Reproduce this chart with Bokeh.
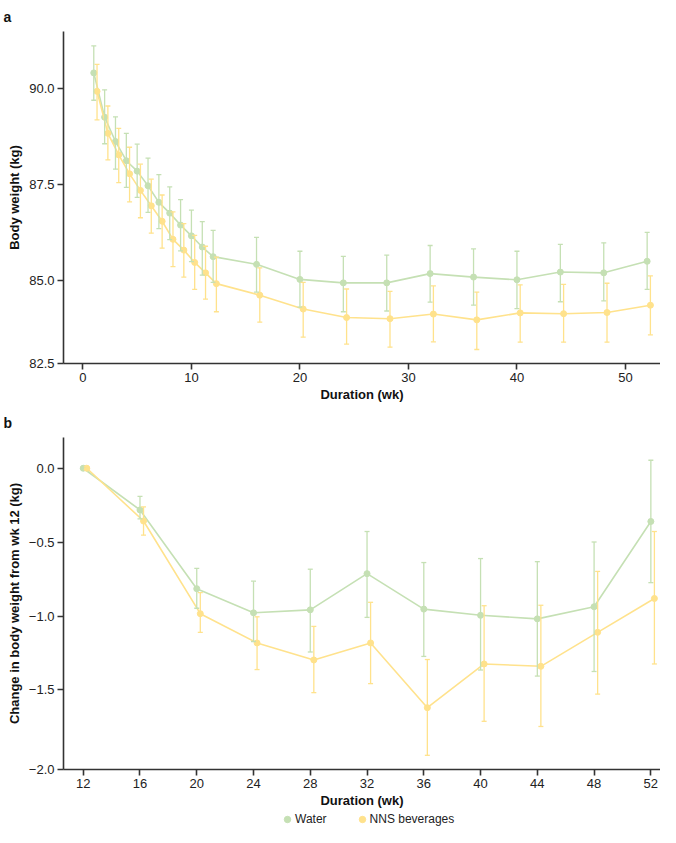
from bokeh.plotting import figure
from bokeh.models import (ColumnDataSource, Whisker, TeeHead, FixedTicker,
                          Legend, LegendItem)
from bokeh.layouts import column
from bokeh.embed import file_html
from bokeh.resources import INLINE

# panel a: body weight (kg) over the whole trial
weeks_a = [1, 2, 3, 4, 5, 6, 7, 8, 9, 10, 11, 12, 16, 20, 24, 28, 32, 36, 40, 44, 48, 52]
water_a = [90.40, 89.25, 88.62, 88.12, 87.85, 87.47, 87.04, 86.76, 86.45, 86.17, 85.88,
           85.63, 85.43, 85.04, 84.95, 84.95, 85.19, 85.10, 85.03, 85.23, 85.21, 85.51]
water_a_hi = [91.10, 89.96, 89.26, 88.83, 88.55, 88.19, 87.76, 87.44, 87.11, 86.84, 86.54,
              86.31, 86.13, 85.77, 85.64, 85.67, 85.92, 85.83, 85.77, 85.95, 85.99, 86.26]
water_a_lo = [89.69, 88.56, 87.90, 87.43, 87.17, 86.78, 86.36, 86.07, 85.78, 85.50, 85.15,
              84.96, 84.71, 84.32, 84.20, 84.22, 84.45, 84.37, 84.28, 84.46, 84.48, 84.78]
nns_a = [89.92, 88.83, 88.27, 87.78, 87.35, 86.95, 86.55, 86.08, 85.80, 85.48, 85.21,
         84.93, 84.63, 84.27, 84.05, 84.02, 84.14, 83.99, 84.17, 84.15, 84.18, 84.37]
nns_a_hi = [90.62, 89.54, 88.96, 88.47, 88.03, 87.64, 87.23, 86.79, 86.49, 86.18, 85.90,
            85.62, 85.34, 84.96, 84.79, 84.73, 84.87, 84.71, 84.90, 84.91, 84.94, 85.13]
nns_a_lo = [89.18, 88.14, 87.55, 87.05, 86.64, 86.24, 85.85, 85.37, 85.10, 84.78, 84.53,
            84.20, 83.93, 83.54, 83.36, 83.28, 83.42, 83.22, 83.41, 83.41, 83.41, 83.60]

# panel b: change from week 12
weeks_b = [12, 16, 20, 24, 28, 32, 36, 40, 44, 48, 52]
water_b = [0.0, -0.282, -0.815, -0.978, -0.958, -0.713, -0.953, -0.995, -1.019, -0.937, -0.360]
water_b_hi = [0.0, -0.190, -0.677, -0.764, -0.683, -0.428, -0.638, -0.611, -0.632, -0.499, 0.054]
water_b_lo = [0.0, -0.342, -0.947, -1.172, -1.243, -1.009, -1.273, -1.365, -1.406, -1.375, -0.774]
nns_b = [0.0, -0.357, -0.984, -1.182, -1.297, -1.182, -1.620, -1.324, -1.340, -1.110, -0.881]
nns_b_hi = [0.0, -0.262, -0.842, -1.005, -1.070, -0.907, -1.294, -0.930, -0.927, -0.698, -0.428]
nns_b_lo = [0.0, -0.453, -1.110, -1.362, -1.518, -1.457, -1.942, -1.712, -1.747, -1.528, -1.324]

series = ["Water", "NNS beverages"]

GREEN = "#c5e0b4"
YELLOW = "#ffe28c"
FONT = "Liberation Sans"
AXIS = "#333333"
WIDTH = 660
LEFT = 63


def style(p, letter, xticks, yticks, ylabels):
    p.outline_line_color = None
    p.grid.visible = False
    p.title.text = letter
    p.title.align = "left"
    p.title.offset = -60
    p.title.standoff = 13
    p.title.text_font = FONT
    p.title.text_font_size = "14px"
    p.title.text_color = "#111111"
    p.xaxis.ticker = FixedTicker(ticks=xticks)
    p.yaxis.ticker = FixedTicker(ticks=yticks)
    p.yaxis.major_label_overrides = dict(zip(yticks, ylabels))
    for ax in (p.xaxis[0], p.yaxis[0]):
        ax.axis_line_color = AXIS
        ax.axis_line_width = 1.6
        ax.major_tick_line_color = AXIS
        ax.major_tick_line_width = 1.6
        ax.major_tick_in = 0
        ax.major_tick_out = 6
        ax.minor_tick_line_color = None
        ax.major_label_text_font = FONT
        ax.major_label_text_font_size = "13px"
        ax.major_label_text_color = "#222222"
        ax.major_label_standoff = 3
        ax.axis_label_text_font = FONT
        ax.axis_label_text_font_size = "13px"
        ax.axis_label_text_font_style = "bold"
        ax.axis_label_text_color = "#111111"
        ax.axis_label_standoff = 4
    p.xaxis.axis_label_standoff = 2


def add_series(p, x, y, lo, hi, color):
    source = ColumnDataSource(dict(x=x, y=y, lo=lo, hi=hi))
    p.line("x", "y", source=source, line_color=color, line_width=1.6)
    w = Whisker(source=source, base="x", upper="hi", lower="lo", dimension="height",
                line_color=color, line_width=1.3, level="glyph",
                upper_head=TeeHead(size=5, line_color=color, line_width=1.3),
                lower_head=TeeHead(size=5, line_color=color, line_width=1.3))
    p.add_layout(w)
    return p.scatter("x", "y", source=source, size=6, fill_color=color, line_color=color)


# --- panel a
p1 = figure(width=WIDTH, height=406, x_range=(-1.79, 53.23), y_range=(82.857, 91.474),
            output_backend="svg", toolbar_location=None,
            min_border_left=LEFT, min_border_right=0, min_border_top=30, min_border_bottom=43,
            x_axis_label="Duration (wk)", y_axis_label="Body weight (kg)")
style(p1, "a", [0, 10, 20, 30, 40, 50], [82.857, 85.0, 87.5, 90.0],
      ["82.5", "85.0", "87.5", "90.0"])
add_series(p1, weeks_a, water_a, water_a_lo, water_a_hi, GREEN)
add_series(p1, [w + 0.3 for w in weeks_a], nns_a, nns_a_lo, nns_a_hi, YELLOW)

# --- panel b
p2 = figure(width=WIDTH, height=405, x_range=(10.61, 52.68), y_range=(-2.038, 0.208),
            output_backend="svg", toolbar_location=None,
            min_border_left=LEFT, min_border_right=0, min_border_top=30, min_border_bottom=42,
            x_axis_label="Duration (wk)", y_axis_label="Change in body weight from wk 12 (kg)")
style(p2, "b", weeks_b, [-2.038, -1.5, -1.0, -0.5, 0.0],
      ["\u22122.0", "\u22121.5", "\u22121.0", "\u22120.5", "0.0"])
add_series(p2, weeks_b, water_b, water_b_lo, water_b_hi, GREEN)
add_series(p2, [w + 0.25 for w in weeks_b], nns_b, nns_b_lo, nns_b_hi, YELLOW)

# --- shared legend strip (swatch renderers carry no drawable points)
p3 = figure(width=WIDTH, height=16, output_backend="svg", toolbar_location=None,
            min_border_left=LEFT, min_border_right=0, min_border_top=0, min_border_bottom=0)
p3.axis.visible = False
p3.grid.visible = False
p3.outline_line_color = None
items = []
for name, color in zip(series, [GREEN, YELLOW]):
    r = p3.scatter(x=[float("nan")], y=[float("nan")], size=8,
                   fill_color=color, line_color=color)
    items.append(LegendItem(label=name, renderers=[r]))
legend = Legend(items=items, orientation="horizontal", location=(216, 0),
                border_line_color=None, background_fill_alpha=0,
                label_text_font=FONT, label_text_font_size="12px", label_text_color="#222222",
                glyph_width=16, glyph_height=16, label_height=14,
                padding=0, margin=0, spacing=27, label_standoff=0)
p3.add_layout(legend)

p = column(p1, p2, p3)
open("out.html", "w").write(file_html(p, INLINE))
